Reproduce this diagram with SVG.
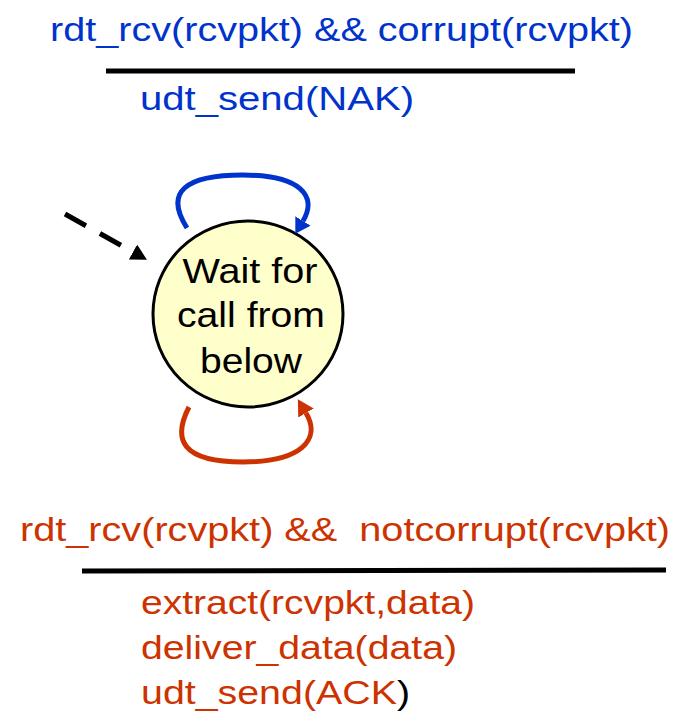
<svg xmlns="http://www.w3.org/2000/svg" width="686" height="712" viewBox="0 0 686 712">
  <style>
    .lbl { font-family: "Liberation Sans", Arial, Helvetica, sans-serif; font-size: 34px; }
    .blue { fill: #0033cc; }
    .red { fill: #cc3300; }
    .rule { stroke: #000; stroke-width: 5; }
    .state-text { font-family: "Liberation Sans", Arial, Helvetica, sans-serif; font-size: 35px; fill: #000; text-anchor: middle; }
  </style>
  <defs>
    <marker id="head-blue" markerUnits="userSpaceOnUse" markerWidth="16" markerHeight="18" refX="0" refY="9" orient="auto">
      <path d="M0,0 L15,9 L0,18 z" fill="#0033cc"/>
    </marker>
    <marker id="head-red" markerUnits="userSpaceOnUse" markerWidth="17" markerHeight="18" refX="0" refY="9" orient="auto">
      <path d="M0,0 L16,9 L0,18 z" fill="#cc3300"/>
    </marker>
    <marker id="head-black" markerUnits="userSpaceOnUse" markerWidth="16" markerHeight="18" refX="0" refY="8.5" orient="auto">
      <path d="M0,0 L16,8.5 L0,17 z" fill="#000"/>
    </marker>
  </defs>

  <rect width="686" height="712" fill="#fff"/>

  <!-- self-loop labels -->
  <g id="label-corrupt">
    <text class="lbl blue" x="50" y="41" textLength="583" lengthAdjust="spacingAndGlyphs">rdt_rcv(rcvpkt) &amp;&amp; corrupt(rcvpkt)</text>
    <line class="rule" x1="106" y1="71" x2="575" y2="71"/>
    <text class="lbl blue" x="140" y="110" textLength="274" lengthAdjust="spacingAndGlyphs">udt_send(NAK)</text>
  </g>

  <g id="label-notcorrupt">
    <text class="lbl red" x="20" y="541" textLength="650" lengthAdjust="spacingAndGlyphs" xml:space="preserve">rdt_rcv(rcvpkt) &amp;&amp;  notcorrupt(rcvpkt)</text>
    <line class="rule" x1="82" y1="571" x2="666" y2="570"/>
    <text class="lbl red" x="141" y="614" textLength="334" lengthAdjust="spacingAndGlyphs">extract(rcvpkt,data)</text>
    <text class="lbl red" x="141" y="659" textLength="316" lengthAdjust="spacingAndGlyphs">deliver_data(data)</text>
    <text class="lbl red" x="141" y="704" textLength="269" lengthAdjust="spacingAndGlyphs">udt_send(ACK<tspan fill="#000">)</tspan></text>
  </g>

  <!-- state -->
  <g id="wait-for-call-from-below">
    <ellipse cx="248" cy="314" rx="95" ry="93" fill="#ffffcc" stroke="#000" stroke-width="3"/>
    <text class="state-text" x="250" y="283" textLength="135" lengthAdjust="spacingAndGlyphs">Wait for</text>
    <text class="state-text" x="251" y="327" textLength="148" lengthAdjust="spacingAndGlyphs">call from</text>
    <text class="state-text" x="251" y="373" textLength="102" lengthAdjust="spacingAndGlyphs">below</text>
  </g>

  <!-- transitions -->
  <g id="connectors" fill="none">
    <path d="M65,214 L133,252" stroke="#000" stroke-width="5" stroke-dasharray="24 16" marker-end="url(#head-black)"/>
    <path d="M187,228 C164,192 185,175 243,175 C300,175 318,196 303,221" stroke="#0033cc" stroke-width="5" marker-end="url(#head-blue)"/>
    <path d="M189,407 C172,440 182,462 243,462 C300,462 322,440 306,413" stroke="#cc3300" stroke-width="5" marker-end="url(#head-red)"/>
  </g>
</svg>
